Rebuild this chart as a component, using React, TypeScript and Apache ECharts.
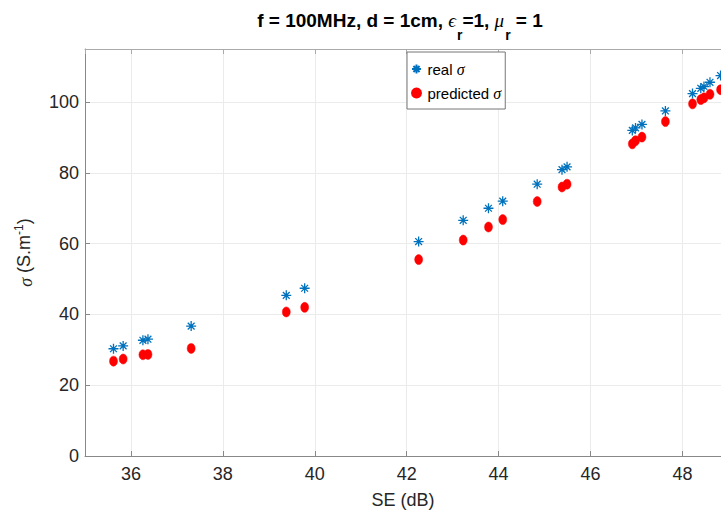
import React, { useEffect, useRef } from "react";
import * as echarts from "echarts";

// SE (dB) values
const seValues = [35.62, 35.83, 36.26, 36.37, 37.31, 39.38, 39.78, 42.26, 43.23, 43.78, 44.09, 44.84, 45.38, 45.49, 46.91, 46.98, 47.12, 47.63, 48.22, 48.40, 48.47, 48.60, 48.83];
// real sigma
const realSigma = [30.3, 31.1, 32.7, 33.0, 36.7, 45.4, 47.4, 60.6, 66.6, 70.0, 72.0, 76.8, 80.9, 81.7, 92.0, 92.7, 93.7, 97.5, 102.4, 103.9, 104.4, 105.6, 107.5];
// predicted sigma
const predSigma = [26.8, 27.4, 28.6, 28.7, 30.4, 40.7, 42.0, 55.5, 61.0, 64.7, 66.8, 71.9, 76.0, 76.8, 88.2, 89.1, 90.1, 94.5, 99.5, 100.7, 101.2, 102.2, 103.5];

const seriesNames = ["real", "predicted"];
const titleText = "f = 100MHz, d = 1cm, ";
const xName = "SE (dB)";

const FONT = "'Liberation Sans Narrow', 'Liberation Sans', Arial, sans-serif";
const GREEK = "'Liberation Serif', 'DejaVu Serif', serif";

const asterisk = "path://M5 0L5 10M0 5L10 5M1.6 1.6L8.4 8.4M1.6 8.4L8.4 1.6";

export default function App() {
  const ref = useRef<HTMLDivElement>(null);
  useEffect(() => {
    if (!ref.current) return;
    const chart = echarts.init(ref.current, null, { renderer: "svg" });
    const realData = seValues.map((x, i) => [x, realSigma[i]]);
    const predData = seValues.map((x, i) => [x, predSigma[i]]);
    chart.setOption({
      animation: false,
      backgroundColor: "#fff",
      grid: { left: 85, right: 0, top: 49, bottom: 67 },
      graphic: [
        {
          type: "text",
          x: 400,
          y: 11,
          style: {
            text: `{b|${titleText}}{g|ϵ}{s|r}{b|=1, }{g|μ}{s|r}{b| = 1}`,
            textAlign: "center",
            rich: {
              b: { fontFamily: FONT, fontWeight: "bold", fontSize: 19, lineHeight: 22, verticalAlign: "top", fill: "#000" },
              g: { fontFamily: GREEK, fontStyle: "italic", fontSize: 19, lineHeight: 22, verticalAlign: "top", fill: "#000" },
              s: { fontFamily: FONT, fontWeight: "bold", fontSize: 14, lineHeight: 14, padding: [17, 0, 0, 1], verticalAlign: "top", fill: "#000" },
            },
          },
        },
      ],
      legend: {
        orient: "vertical",
        left: 407,
        top: 52,
        padding: [8, 4, 7, 4],
        itemGap: 6,
        itemWidth: 12,
        itemHeight: 9,
        backgroundColor: "#fff",
        borderColor: "#777",
        borderWidth: 1,
        borderRadius: 0,
        data: seriesNames,
        formatter: (name: string) => `{t|${name} }{g|σ}`,
        textStyle: {
          fontFamily: FONT,
          fontSize: 15,
          lineHeight: 18,
          color: "#000",
          rich: {
            t: { fontFamily: FONT, fontSize: 15, color: "#000" },
            g: { fontFamily: GREEK, fontStyle: "italic", fontSize: 16, color: "#000" },
          },
        },
      },
      xAxis: [
        {
          type: "value",
          min: 35,
          max: 48.84,
          minInterval: 2,
          maxInterval: 2,
          name: xName,
          nameLocation: "middle",
          nameGap: 35,
          nameTextStyle: { fontFamily: FONT, fontSize: 18, color: "#262626" },
          axisLine: { show: true, onZero: false, lineStyle: { color: "#888", width: 1 } },
          axisTick: { show: true, inside: true, length: 5, lineStyle: { color: "#888" } },
          axisLabel: { fontFamily: FONT, fontSize: 18, color: "#262626", margin: 9, showMinLabel: false, showMaxLabel: false },
          splitLine: { show: true, lineStyle: { color: "#ebebeb", width: 1 } },
        },
        {
          type: "value",
          position: "top",
          min: 35,
          max: 48.84,
          minInterval: 2,
          maxInterval: 2,
          axisLine: { show: true, onZero: false, lineStyle: { color: "#aaa", width: 1 } },
          axisTick: { show: true, inside: true, length: 5, lineStyle: { color: "#aaa" } },
          axisLabel: { show: false },
          splitLine: { show: false },
        },
      ],
      yAxis: {
        type: "value",
        min: 0,
        max: 115,
        interval: 20,
        name: "{g|σ} (S.m{sup|-1})",
        nameLocation: "middle",
        nameRotate: 90,
        nameGap: 50,
        nameTextStyle: {
          fontFamily: FONT,
          fontSize: 18,
          color: "#262626",
          rich: {
            g: { fontFamily: GREEK, fontStyle: "italic", fontSize: 18, color: "#262626", lineHeight: 22, verticalAlign: "bottom" },
            sup: { fontFamily: FONT, fontSize: 12, color: "#262626", lineHeight: 12, verticalAlign: "top" },
          },
        },
        axisLine: { show: true, lineStyle: { color: "#888", width: 1 } },
        axisTick: { show: true, inside: true, length: 5, lineStyle: { color: "#888" } },
        axisLabel: { fontFamily: FONT, fontSize: 18, color: "#262626", margin: 6, showMaxLabel: false },
        splitLine: { show: true, lineStyle: { color: "#ebebeb", width: 1 } },
      },
      series: [
        {
          name: seriesNames[0],
          type: "scatter",
          data: realData,
          symbol: asterisk,
          symbolSize: [10, 10],
          itemStyle: { color: "rgba(0,0,0,0)", borderColor: "#0072BD", borderWidth: 1.3, opacity: 1 },
          z: 3,
        },
        {
          name: seriesNames[1],
          type: "scatter",
          data: predData,
          symbol: "circle",
          symbolSize: [8, 10],
          itemStyle: { color: "#FF0000", borderColor: "#FF0000", borderWidth: 0.5, opacity: 1 },
          z: 2,
        },
      ],
    });
    return () => chart.dispose();
  }, []);
  return <div ref={ref} style={{ width: 721, height: 523, position: "absolute", left: 0, top: 0 }} />;
}
